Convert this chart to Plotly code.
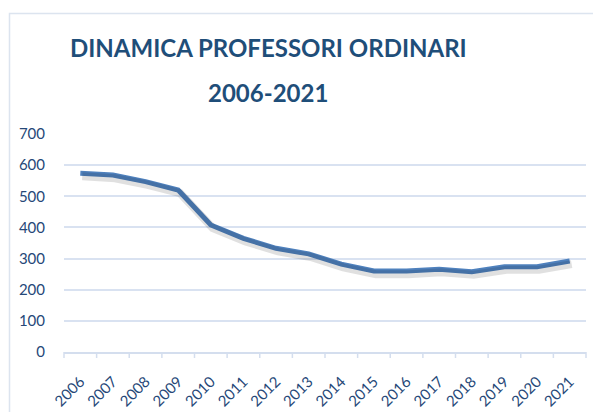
import plotly.graph_objects as go

years = [str(y) for y in range(2006, 2022)]
values = [574, 568, 547, 520, 408, 365, 333, 315, 282, 260, 260, 266, 258, 274, 274, 292]
y_ticks = [0, 100, 200, 300, 400, 500, 600, 700]
title_line1 = "DINAMICA PROFESSORI ORDINARI"
title_line2 = "2006-2021"

# page body has an 8px margin, so the figure is drawn at (8, 8)
OFF = 8
W, H = 601 - OFF, 412 - OFF
L, R, T, B = 64 - OFF, 15, 134 - OFF, 60
pw, ph = W - L - R, H - T - B

def px_x(x):
    return (x - OFF - L) / pw

def px_y(y):
    return (H - B - (y - OFF)) / ph

FONT = "Lato, Open Sans, sans-serif"
tick_font = dict(family=FONT, size=15, color="#264878")

fig = go.Figure()
# soft drop shadow, drawn on a twin axis shifted a few pixels down/right
fig.add_trace(go.Scatter(x=years, y=values, mode="lines", xaxis="x2", yaxis="y2",
                         line=dict(color="rgba(0,0,0,0.12)", width=8),
                         hoverinfo="skip", showlegend=False))
fig.add_trace(go.Scatter(x=years, y=values, mode="lines",
                         line=dict(color="#4F81BD", width=5), showlegend=False))

fig.update_layout(
    width=W, height=H,
    margin=dict(l=L, r=R, t=T, b=B, autoexpand=False),
    paper_bgcolor="white", plot_bgcolor="white",
    xaxis=dict(type="category", categoryorder="array", categoryarray=years,
               range=[-0.5, 15.5], tickangle=-45, tickfont=tick_font,
               showgrid=False, showline=True, linecolor="#D4DEEE", linewidth=2,
               ticks="", ticklabelstandoff=13, automargin=False, fixedrange=True),
    yaxis=dict(range=[0, 700], tickvals=y_ticks, tickfont=tick_font,
               showgrid=True, gridcolor="#D9E2F1", gridwidth=2, zeroline=False,
               showline=False, ticks="", ticklabelstandoff=18, automargin=False),
    xaxis2=dict(type="category", categoryorder="array", categoryarray=years,
                range=[-0.5 - 0.06, 15.5 - 0.06], overlaying="x", visible=False),
    yaxis2=dict(range=[0 + 10, 700 + 10], overlaying="y", visible=False),
)

title_font = dict(family=FONT, size=24, color="#1F4E79", weight="bold")
fig.add_annotation(text=title_line1, xref="paper", yref="paper", x=px_x(268), y=px_y(47),
                   xanchor="center", yanchor="middle", showarrow=False, font=title_font)
fig.add_annotation(text=title_line2, xref="paper", yref="paper", x=px_x(268), y=px_y(92),
                   xanchor="center", yanchor="middle", showarrow=False, font=title_font)

shapes = []
# category separator tick marks below the axis line
for i in range(len(years) + 1):
    xp = i / len(years)
    shapes.append(dict(type="line", xref="paper", yref="paper",
                       x0=xp, x1=xp, y0=0, y1=-6 / ph,
                       line=dict(color="#D4DEEE", width=1.5)))
# chart border
shapes.append(dict(type="rect", xref="paper", yref="paper",
                   x0=px_x(9.5), x1=px_x(640), y0=px_y(450), y1=px_y(13.5),
                   line=dict(color="#DCE4EF", width=1.5), fillcolor="rgba(0,0,0,0)", layer="below"))
fig.update_layout(shapes=shapes)

fig.write_html("out.html")
